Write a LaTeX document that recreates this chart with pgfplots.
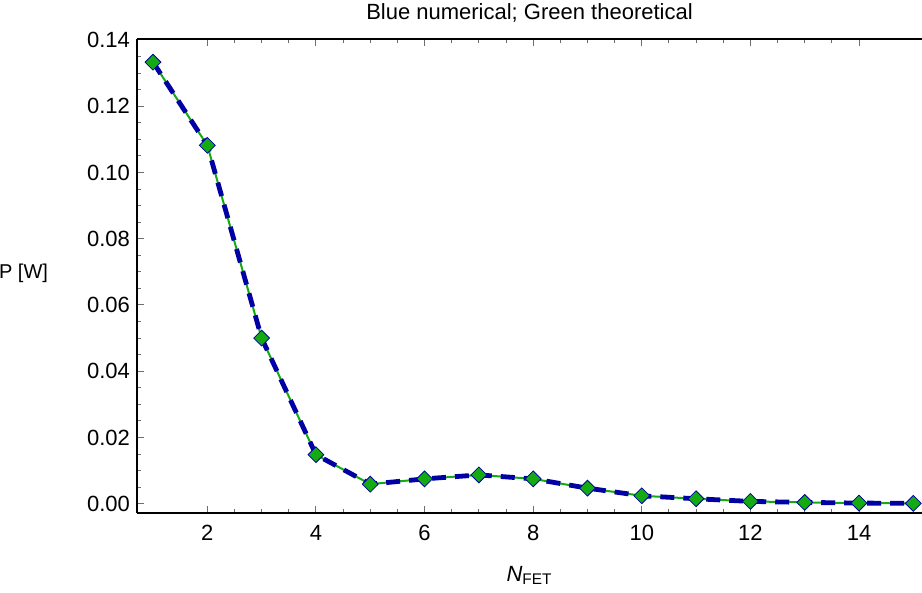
\documentclass[border=0pt]{standalone}
\usepackage{pgfplots}
\pgfplotsset{compat=1.18}
\usepackage{fontspec}
\setmainfont{Liberation Sans}
\setsansfont{Liberation Sans}

\definecolor{numblue}{RGB}{0,0,165}
\definecolor{thgreen}{RGB}{20,170,20}
\definecolor{tickgray}{RGB}{110,110,110}

\pgfplotstableread{
n    p
1    0.1333
2    0.1082
3    0.0500
4    0.0148
5    0.0059
6    0.0075
7    0.0087
8    0.0075
9    0.0047
10   0.0024
11   0.0015
12   0.0007
13   0.0004
14   0.0002
15   0.0001
}\powerdata

\begin{document}
\begin{tikzpicture}
\begin{axis}[
  scale only axis, width=392.5bp, height=237bp,
  xmin=0.705, xmax=15.16, ymin=-0.0028, ymax=0.1403,
  axis x line=box, axis y line*=left,
  axis line style={line width=0.8bp, black},
  tick align=inside,
  xtick={2,4,...,14}, ytick={0,0.02,...,0.14},
  minor x tick num=3, minor y tick num=3,
  xtick pos=both, xticklabel pos=lower,
  major tick length=3.5bp, minor tick length=2bp,
  every tick/.style={tickgray, line width=0.5bp},
  tick label style={font=\fontsize{11bp}{13bp}\selectfont, black},
  xticklabel style={yshift=-2.5bp},
  /pgf/number format/assume math mode=true,
  yticklabel style={/pgf/number format/.cd, fixed, fixed zerofill, precision=2},
  title={Blue numerical; Green theoretical},
  title style={font=\fontsize{11bp}{13bp}\selectfont, at={(rel axis cs:0.5,1)}, anchor=base, yshift=4bp},
  xlabel={\textit{N}\textsubscript{FET}},
  xlabel style={font=\fontsize{11bp}{13bp}\selectfont, at={(rel axis cs:0.5,0)}, anchor=base, yshift=-34bp},
  ylabel={P [W]},
  ylabel style={font=\fontsize{10bp}{12bp}\selectfont, rotate=-90, inner sep=0pt, at={(rel axis cs:0,0.505)}, anchor=east, xshift=-44.3bp},
  clip=false,
]
\coordinate (sw) at (rel axis cs:0,0);
\coordinate (ne) at (rel axis cs:1,1);
\addplot[thgreen, line width=1bp, mark=square*, mark size=2.8bp,
  mark options={rotate=45, fill=thgreen, draw=numblue, line width=0.4bp, solid}]
  table[x=n, y=p] {\powerdata};
\addplot[numblue, line width=2.4bp, dash pattern=on 7bp off 4.5bp]
  table[x=n, y=p] {\powerdata};
\end{axis}
\pgfresetboundingbox
\path[use as bounding box] ([xshift=-68.5bp, yshift=-40bp]sw) rectangle ([yshift=19.5bp]ne);
\end{tikzpicture}
\end{document}
